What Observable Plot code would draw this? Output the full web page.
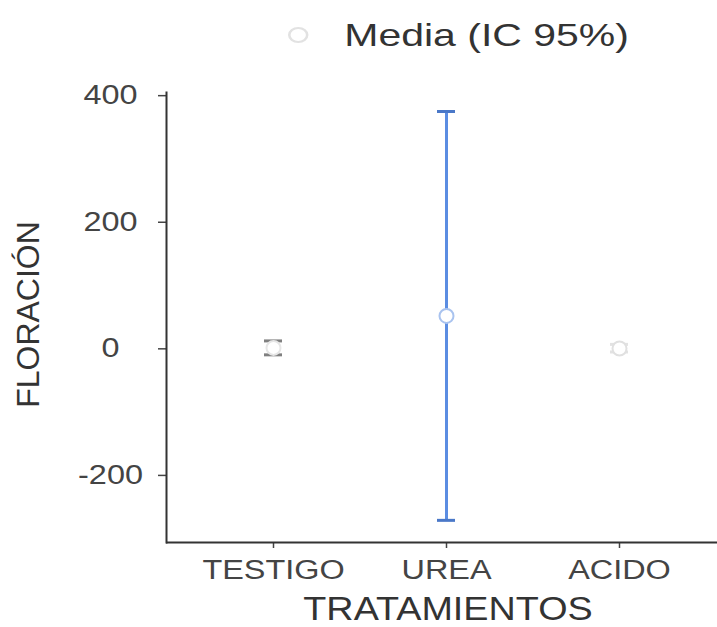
<!DOCTYPE html>
<html>
<head>
<meta charset="utf-8">
<script src="https://cdn.jsdelivr.net/npm/d3@7"></script>
<script src="https://cdn.jsdelivr.net/npm/@observablehq/plot@0.6"></script>
<style>
  html, body { margin: 0; padding: 0; background: #fff; }
  body { width: 717px; height: 627px; position: relative; overflow: hidden; font-family: "Liberation Sans", Arial, sans-serif; }
  #legend { position: absolute; left: 288px; top: 10px; height: 50px; display: flex; align-items: center; color: #333; font-size: 32px; transform: scaleX(1.28); transform-origin: left center; white-space: nowrap; }
  #legend .sym { display: inline-block; width: 12px; height: 12px; border: 2px solid #e2e2e2; border-radius: 50%; margin-right: 28px; }
</style>
</head>
<body>
<div id="legend"><span class="sym"></span><span id="legendText"></span></div>
<div id="chart"></div>
<script>
// ---- data ----
const categories = ["TESTIGO", "UREA", "ACIDO"];
const means      = [1.5, 52, 0.5];
const ciLow      = [-9.5, -271, -5];
const ciHigh     = [12.5, 375, 7];
const yTicks     = [-200, 0, 200, 400];
const yLabel     = "FLORACIÓN";
const xLabel     = "TRATAMIENTOS";
const legendLabel = "Media (IC 95%)";

const rows = categories.map((c, i) => ({cat: c, mean: means[i], lo: ciLow[i], hi: ciHigh[i]}));

document.getElementById("legendText").textContent = legendLabel;

const barColor = {TESTIGO: "#c4c4c4", UREA: "#5b8de2", ACIDO: "#ececec"};
const capColor = {TESTIGO: "#808080", UREA: "#4a78c8", ACIDO: "#e2e2e2"};
const dotColor = {TESTIGO: "#e6e6e6", UREA: "#a9c3ef", ACIDO: "#e0e0e0"};

const chart = Plot.plot({
  width: 717,
  height: 627,
  marginTop: 92,
  marginBottom: 85,
  marginLeft: 166,
  marginRight: -8,
  style: {fontFamily: "'Liberation Sans', Arial, sans-serif", background: "#fff", color: "#333"},
  x: {domain: categories, type: "band", paddingInner: 0.896, paddingOuter: 0.561},
  y: {domain: [-306, 405], ticks: yTicks},
  marks: [
    Plot.ruleX(rows, {x: "cat", y1: "lo", y2: "hi", stroke: d => barColor[d.cat], strokeWidth: 3}),
    Plot.tickY(rows, {x: "cat", y: "hi", stroke: d => capColor[d.cat], strokeWidth: 3}),
    Plot.tickY(rows, {x: "cat", y: "lo", stroke: d => capColor[d.cat], strokeWidth: 3}),
    Plot.dot(rows, {x: "cat", y: "mean", r: 7, fill: "#fff", stroke: d => dotColor[d.cat], strokeWidth: 2}),
    Plot.axisY({ticks: yTicks, tickFormat: d => String(d), tickSize: 8, tickPadding: 48, textAnchor: "middle", fontSize: 27, stroke: "#444", strokeWidth: 1.5, fill: "#444", label: null}),
    Plot.axisX({tickSize: 6, tickPadding: 11, fontSize: 27, stroke: "#444", strokeWidth: 1.5, fill: "#444", label: null}),
    Plot.ruleY([-306], {stroke: "#333", strokeWidth: 2}),
    Plot.frame({anchor: "left", stroke: "#333", strokeWidth: 2}),
    Plot.text([yLabel], {frameAnchor: "left", dx: -138, dy: -3, rotate: -90, fontSize: 32, fill: "#333", textAnchor: "middle", lineAnchor: "middle"}),
    Plot.text([xLabel], {frameAnchor: "bottom", dx: 2, dy: 67, fontSize: 34, fill: "#333", textAnchor: "middle", lineAnchor: "middle"})
  ]
});
document.getElementById("chart").appendChild(chart);

// horizontal stretch of the (unrotated) labels, as in the reference screenshot
chart.querySelectorAll("text").forEach(t => {
  const tr = t.getAttribute("transform") || "";
  const ptr = t.parentNode && t.parentNode.getAttribute ? (t.parentNode.getAttribute("transform") || "") : "";
  if (tr.includes("rotate") || ptr.includes("rotate")) return;
  const len = t.getComputedTextLength();
  const s = t.textContent === xLabel ? 1.11 : 1.2;
  if (len > 0) {
    t.setAttribute("textLength", (len * s).toFixed(1));
    t.setAttribute("lengthAdjust", "spacingAndGlyphs");
  }
});
</script>
</body>
</html>
